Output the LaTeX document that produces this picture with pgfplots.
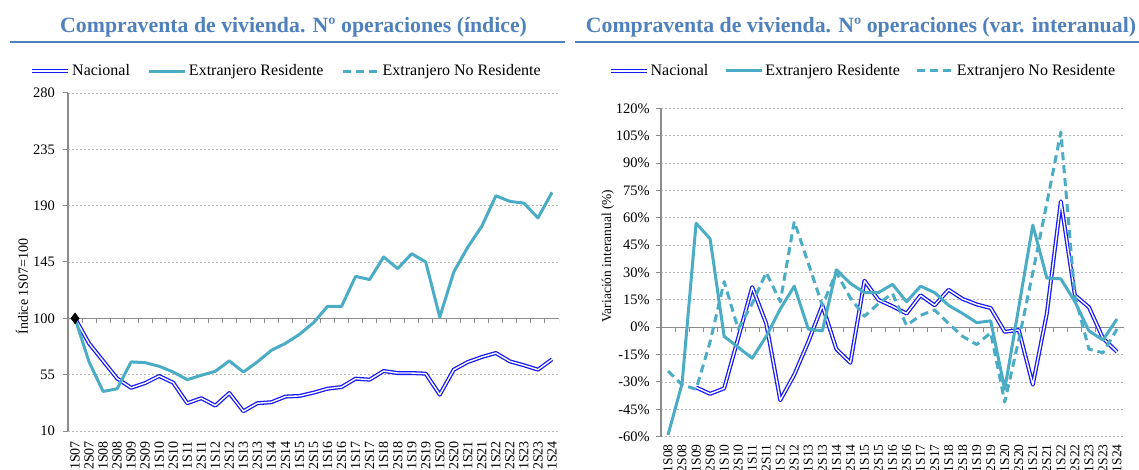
\documentclass[border=0pt]{standalone}
\usepackage{fontspec}
\setmainfont{Liberation Serif}
\usepackage{pgfplots}
\pgfplotsset{compat=1.18}

\definecolor{titleblue}{RGB}{79,129,189}
\definecolor{tealA}{RGB}{75,172,198}
\definecolor{natblue}{RGB}{25,25,245}
\definecolor{axgray}{RGB}{140,140,140}
\definecolor{gridgray}{RGB}{180,180,180}

\pgfplotsset{
  base/.style={
    scale only axis, anchor=south west,
    axis x line*=bottom, axis y line*=left,
    x axis line style={draw=none},
    y axis line style={axgray, line width=1.3bp},
    ymajorgrids,
    grid style={gridgray, line width=0.8bp, dash pattern=on 2bp off 2bp},
    xtick style={draw=none},
    ytick style={axgray, line width=1bp},
    tick align=outside, major tick length=5bp,
    yticklabel style={font=\fontsize{14.5bp}{15bp}\selectfont, text=black, inner sep=0pt, anchor=east},
    legend image code/.code={\draw[##1] (0bp,0bp) -- (36bp,0bp);},
    legend columns=3,
    legend cell align=left,
  },
  nac/.style={draw=natblue, double=white, double distance=1.4bp, line width=1.3bp, line join=round},
  res/.style={tealA, line width=3bp, line join=round},
  nores/.style={tealA, line width=3bp, dash pattern=on 8bp off 5bp, line join=round},
}

\begin{document}
\begin{tikzpicture}
\useasboundingbox (0,0) rectangle (1139bp,470bp);

% titles
\node[font=\fontsize{21.8bp}{24bp}\selectfont\bfseries, text=titleblue] at (293.6bp,443bp) {Compraventa de vivienda. Nº operaciones (índice)};
\draw[titleblue, line width=1.6bp] (10bp,428bp) -- (565bp,428bp);
\node[font=\fontsize{21.8bp}{24bp}\selectfont\bfseries, text=titleblue] at (861bp,443bp) {Compraventa de vivienda. Nº operaciones (var. interanual)};
\draw[titleblue, line width=1.6bp] (575bp,428bp) -- (1139bp,428bp);

% ---------------- left: index ----------------
\begin{axis}[base,
  at={(68bp,39bp)}, width=491bp, height=338bp,
  xmin=-0.5, xmax=34.5, ymin=10, ymax=280,
  ytick={10,55,100,145,190,235,280},
  yticklabels={10,55,100,145,190,235,280},
  yticklabel style={xshift=-8bp},
  xtick={0,...,34},
  xticklabels={1S07,2S07,1S08,2S08,1S09,2S09,1S10,2S10,1S11,2S11,1S12,2S12,1S13,2S13,1S14,2S14,1S15,2S15,1S16,2S16,1S17,2S17,1S18,2S18,1S19,2S19,1S20,2S20,1S21,2S21,1S22,2S22,1S23,2S23,1S24},
  xticklabel style={font=\fontsize{14bp}{14bp}\selectfont, text=black, yshift=-5bp, rotate=90, anchor=east, inner sep=0pt},
  every axis y label/.style={at={(axis description cs:-0.0937,0.4275)}, rotate=90, anchor=center, font=\fontsize{14bp}{14bp}\selectfont},
  ylabel={Índice 1S07=100},
  legend style={draw=none, fill=none, at={(axis description cs:0.445,1.065)}, anchor=center,
    font=\fontsize{16bp}{17bp}\selectfont, nodes={inner xsep=2bp, inner ysep=1bp},
    /tikz/every even column/.append style={column sep=16bp}},
]
\draw[axgray, line width=1.3bp] (axis cs:-0.5,100) -- (axis cs:34.5,100);
\pgfplotsinvokeforeach{0,...,34}{\draw[axgray, line width=1bp] (axis cs:#1.5,100) -- ++(0bp,-5bp);}

\addplot[nac] coordinates {
(0,100) (1,80) (2,66) (3,52) (4,44.5) (5,48.3) (6,53.9) (7,48.6) (8,32.2) (9,36.2)
(10,30.3) (11,40.3) (12,25.8) (13,32.2) (14,33) (15,37.5) (16,38) (17,40.6) (18,43.8) (19,45.1)
(20,51.8) (21,51) (22,57.9) (23,56.3) (24,56.3) (25,55.8) (26,39) (27,59) (28,65.1) (29,69.1)
(30,72.3) (31,65.6) (32,62.5) (33,59) (34,67.2)};
\addlegendentry{Nacional}
\addplot[res] coordinates {
(0,100) (1,65.2) (2,41.6) (3,43.7) (4,65.2) (5,64.6) (6,61.7) (7,57.1) (8,51) (9,54.5)
(10,57.7) (11,66) (12,57.1) (13,65.2) (14,74.5) (15,80) (16,87.2) (17,96.5) (18,109.6) (19,109.6)
(20,133.5) (21,131) (22,149) (23,139.7) (24,151.6) (25,145) (26,101) (27,137) (28,156.9) (29,173.6)
(30,197.9) (31,193.4) (32,192) (33,180.2) (34,200.6)};
\addlegendentry{Extranjero Residente}
\addlegendimage{nores}
\addlegendentry{Extranjero No Residente}
\addplot[only marks, mark=diamond*, mark size=5.5bp, black, forget plot] coordinates {(0,100)};
\end{axis}

% ---------------- right: year-on-year ----------------
\begin{axis}[base,
  at={(661bp,33.3bp)}, width=463bp, height=328.4bp,
  xmin=-0.5, xmax=32.5, ymin=-60, ymax=120,
  ytick={-60,-45,-30,-15,0,15,30,45,60,75,90,105,120},
  yticklabels={-60\%,-45\%,-30\%,-15\%,0\%,15\%,30\%,45\%,60\%,75\%,90\%,105\%,120\%},
  yticklabel style={xshift=-6bp},
  xtick={0,...,32},
  xticklabels={1S08,2S08,1S09,2S09,1S10,2S10,1S11,2S11,1S12,2S12,1S13,2S13,1S14,2S14,1S15,2S15,1S16,2S16,1S17,2S17,1S18,2S18,1S19,2S19,1S20,2S20,1S21,2S21,1S22,2S22,1S23,2S23,1S24},
  xticklabel style={font=\fontsize{13.5bp}{14bp}\selectfont, text=black, yshift=-2.5bp, rotate=90, anchor=east, inner sep=0pt},
  every axis y label/.style={at={(axis description cs:-0.1145,0.5503)}, rotate=90, anchor=center, font=\fontsize{13.5bp}{14bp}\selectfont},
  ylabel={Variación interanual (\%)},
  legend style={draw=none, fill=none, at={(axis description cs:0.436,1.1136)}, anchor=center,
    font=\fontsize{16bp}{17bp}\selectfont, nodes={inner xsep=2bp, inner ysep=1bp},
    /tikz/every even column/.append style={column sep=14bp}},
]
\draw[axgray, line width=1.3bp] (axis cs:-0.5,0) -- (axis cs:32.5,0);
\pgfplotsinvokeforeach{0,...,32}{\draw[axgray, line width=1bp] (axis cs:#1.5,0) -- ++(0bp,-5bp);}

\addplot[nac] coordinates {
(2,-33) (3,-36.5) (4,-33.5) (5,-6) (6,22) (7,2) (8,-40) (9,-26) (10,-8) (11,12)
(12,-12) (13,-19.5) (14,25.5) (15,15) (16,11.5) (17,7.5) (18,17.5) (19,12) (20,20.5) (21,15.5)
(22,12.5) (23,10.5) (24,-2.5) (25,-1.5) (26,-31.5) (27,7.5) (28,69) (29,17.5) (30,11) (31,-6) (32,-13.5)};
\addlegendentry{Nacional}
\addplot[res] coordinates {
(0,-59) (1,-31) (2,57) (3,48.5) (4,-5) (5,-11) (6,-17) (7,-5) (8,10) (9,22.5)
(10,-1) (11,-2) (12,31.5) (13,24) (14,19) (15,19) (16,23.5) (17,14) (18,22.5) (19,19)
(20,12) (21,7.5) (22,2.5) (23,3.5) (24,-34) (25,11) (26,56) (27,27) (28,26.5) (29,14)
(30,-2) (31,-7) (32,4.5)};
\addlegendentry{Extranjero Residente}
\addplot[nores] coordinates {
(0,-24) (1,-31.5) (2,-34) (3,-8) (4,25) (5,-1) (6,13) (7,30) (8,14) (9,58)
(10,35) (11,12) (12,30) (13,16) (14,6) (15,13) (16,18.5) (17,1) (18,6.5) (19,9.5)
(20,2) (21,-5) (22,-9.5) (23,-3) (24,-41) (25,-7) (26,30) (27,68) (28,107) (29,17)
(30,-12) (31,-14) (32,-1)};
\addlegendentry{Extranjero No Residente}
\end{axis}
\end{tikzpicture}
\end{document}
